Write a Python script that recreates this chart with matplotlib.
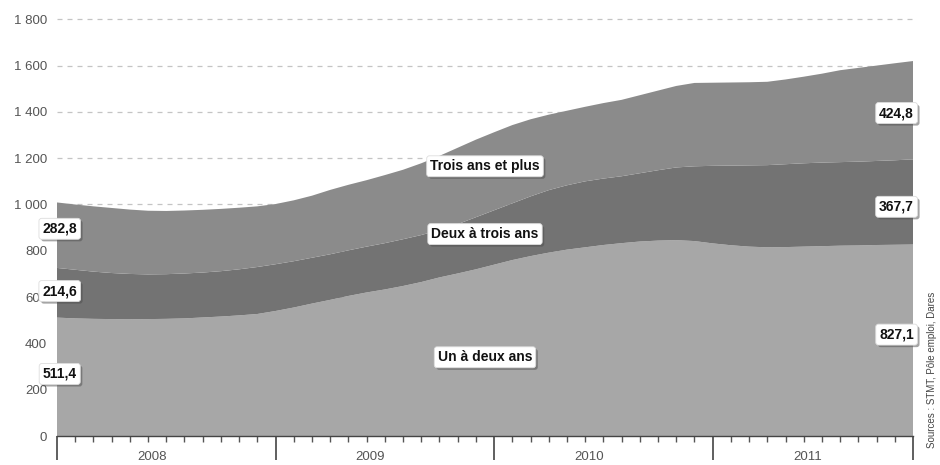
import matplotlib
matplotlib.use("Agg")
import matplotlib.pyplot as plt
import matplotlib.patheffects as pe
import numpy as np

plt.rcParams['font.family'] = ['Liberation Sans Narrow', 'Liberation Sans', 'DejaVu Sans']

years = ["2008", "2009", "2010", "2011"]
months = np.arange(48)  # Jan 2008 .. Dec 2011

un_deux = [511.4, 508, 506, 505, 504, 505, 506, 508, 512, 516, 521, 527,
           540, 555, 572, 588, 605, 620, 633, 648, 665, 685, 702, 720,
           740, 760, 777, 792, 805, 815, 825, 833, 840, 844, 846, 842,
           832, 824, 818, 815, 816, 818, 820, 822, 823, 825, 826, 827.1]
deux_trois = [214.6, 210, 204, 199, 196, 193, 193, 194, 194, 196, 199, 203,
              202, 200, 198, 197, 197, 198, 200, 202, 203, 205, 213, 225,
              235, 245, 258, 270, 278, 285, 287, 289, 295, 304, 314, 323,
              335, 344, 351, 355, 358, 360, 361, 361, 362, 363, 365, 367.7]
trois_plus = [282.8, 282, 282, 281, 278, 275, 273, 272, 271, 269, 266, 262,
              260, 263, 268, 278, 283, 287, 294, 300, 310, 320, 330, 335,
              337, 338, 333, 326, 322, 322, 326, 330, 337, 344, 352, 360,
              359, 359, 359, 360, 366, 374, 384, 397, 405, 412, 419, 424.8]

series_names = ["Un à deux ans", "Deux à trois ans", "Trois ans et plus"]
colors = ["#a7a7a7", "#737373", "#8b8b8b"]
yticks = [0, 200, 400, 600, 800, 1000, 1200, 1400, 1600, 1800]
ytick_labels = ["0", "200", "400", "600", "800", "1 000", "1 200", "1 400", "1 600", "1 800"]

fig = plt.figure(figsize=(9.4, 4.65), dpi=100)
ax = fig.add_axes([57/940, 1-436/465, (913-57)/940, (436-7.7)/465])

ax.stackplot(months, un_deux, deux_trois, trois_plus, colors=colors,
             linewidth=0, zorder=2)

ax.set_xlim(0, 47)
ax.set_ylim(0, 1850)
ax.set_yticks(yticks)
ax.set_yticklabels(ytick_labels)
ax.yaxis.grid(True, linestyle=(0, (4, 4)), color="#c4c4c4", linewidth=0.9, zorder=0)
ax.set_axisbelow(True)
for s in ["top", "right", "left"]:
    ax.spines[s].set_visible(False)
ax.spines["bottom"].set_color("#444444")
ax.spines["bottom"].set_linewidth(1.0)
ax.tick_params(axis="y", length=0, pad=7, labelsize=9.5, labelcolor="#555555")

# x ticks: months minor, years major
ax.set_xticks([0, 12, 24, 36, 47])
ax.set_xticklabels([])
ax.set_xticks(months, minor=True)
ax.tick_params(axis="x", which="major", length=17, width=1.2, color="#444444", direction="out")
ax.tick_params(axis="x", which="minor", length=4, width=1.0, color="#555555", direction="out")
for i, y in enumerate(years):
    ax.annotate(y, xy=(12*i + 5.2, 0), xycoords="data",
                xytext=(0, -19.5), textcoords="offset points",
                ha="center", va="bottom", fontsize=9.5, color="#555555")

def box(x, y, txt, ha="center", size=10):
    t = ax.text(x, y, txt, ha=ha, va="center", fontsize=size, fontweight="bold",
                color="#111111", zorder=5,
                bbox=dict(boxstyle="round,pad=0.25,rounding_size=0.2",
                          fc="white", ec="#dddddd", lw=0.6))
    t.get_bbox_patch().set_path_effects([pe.SimplePatchShadow(offset=(1.5, -1.5), alpha=0.5),
                                         pe.Normal()])
    t.set_clip_on(False)
    return t

# left value boxes
box(0.15, 895, "282,8")
box(0.15, 626, "214,6")
box(0.15, 268, "511,4")
# right value boxes
box(46.1, 1395, "424,8")
box(46.1, 990, "367,7")
box(46.1, 438, "827,1")
# category labels
box(23.5, 1165, series_names[2])
box(23.5, 872, series_names[1])
box(23.5, 340, series_names[0])

fig.text(932/940, 1-370/465, "Sources : STMT, Pôle emploi, Dares", rotation=90,
         ha="center", va="center", fontsize=7, color="#444444")

fig.savefig("out.png", dpi=100, facecolor="white")
